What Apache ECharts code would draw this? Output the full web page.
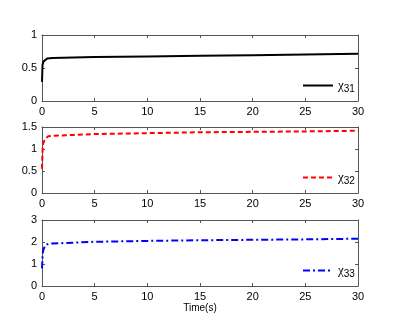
<!DOCTYPE html>
<html><head><meta charset="utf-8">
<script src="https://cdn.jsdelivr.net/npm/echarts@6/dist/echarts.min.js"></script>
<style>html,body{margin:0;padding:0;background:#fff}#c{width:396px;height:334px}</style>
</head><body><div id="c"></div>
<script>
const xTicks = [0,5,10,15,20,25,30];
const names = ['χ31','χ32','χ33'];
const subs = ['31','32','33'];
const chi31 = [[0,0.29],[0.05,0.55],[0.15,0.6],[0.3,0.63],[0.5,0.645],[1,0.65],[3,0.66],[5,0.665],[10,0.675],[15,0.685],[20,0.695],[25,0.705],[30,0.715]];
const chi32 = [[0,0.55],[0.05,0.95],[0.1,1.12],[0.3,1.23],[0.6,1.29],[1,1.3],[3,1.32],[5,1.34],[10,1.36],[15,1.38],[20,1.39],[25,1.40],[30,1.415]];
const chi33 = [[0,0.8],[0.05,1.3],[0.1,1.6],[0.3,1.85],[0.6,1.92],[1,1.93],[3,1.97],[5,2.01],[10,2.05],[15,2.08],[20,2.1],[25,2.12],[30,2.15]];
const yMax = [1,1.5,3];
const yInt = [0.5,0.5,1];
const colors = ['#000000','#ff0000','#0000ff'];
const lineTypes = ['solid',[5,3],[7,3,2,3]];
const datas = [chi31,chi32,chi33];

const tops = [35,127,220];
const H = 66;
const grids=[], xAxes=[], yAxes=[], series=[], legends=[];
const font = {fontFamily:'Liberation Sans, Arial', fontSize:11, color:'#000'};
const axLine={show:true,onZero:false,lineStyle:{color:'#555',width:1}};
const tick={inside:true,length:3,lineStyle:{color:'#555'}};
for(let i=0;i<3;i++){
  grids.push({left:42,right:38,top:tops[i],height:H});
  xAxes.push({type:'value',gridIndex:i,min:0,max:30,interval:5,axisLine:axLine,
    axisTick:tick,splitLine:{show:false},
    axisLabel:Object.assign({margin:5},font),
    name: i===2?'Time(s)':'', nameLocation:'middle', nameGap:16,
    nameTextStyle:{fontFamily:'Liberation Sans, Arial',fontSize:10,color:'#000'}});
  xAxes.push({type:'value',gridIndex:i,position:'top',min:0,max:30,interval:5,axisLine:axLine,
    axisTick:tick,splitLine:{show:false},axisLabel:{show:false}});
  yAxes.push({type:'value',gridIndex:i,min:0,max:yMax[i],interval:yInt[i],axisLine:axLine,
    axisTick:tick,splitLine:{show:false},
    axisLabel:Object.assign({margin:5},font)});
  yAxes.push({type:'value',gridIndex:i,position:'right',min:0,max:yMax[i],interval:yInt[i],axisLine:axLine,
    axisTick:tick,splitLine:{show:false},axisLabel:{show:false}});
  series.push({name:names[i],type:'line',xAxisIndex:2*i,yAxisIndex:2*i,data:datas[i],showSymbol:false,symbol:'none',
    lineStyle:{color:colors[i],width:2,type:lineTypes[i]},itemStyle:{color:colors[i]}});
  legends.push({data:[names[i]],left:302,top:tops[i]+44,itemWidth:30,itemHeight:14,padding:0,
    itemStyle:{opacity:0},
    lineStyle:{color:colors[i],width:2,type:lineTypes[i]},
    formatter:function(){return '{a|χ}{s|'+subs[i]+'}';},
    textStyle:{rich:{a:{fontFamily:'Liberation Serif, Times New Roman',fontSize:13,color:'#000'},s:{fontFamily:'Liberation Sans, Arial',fontSize:10,color:'#000',padding:[8,0,0,0]}}}});
}
const chart = echarts.init(document.getElementById('c'),null,{renderer:'canvas'});
chart.setOption({animation:false,backgroundColor:'#fff',grid:grids,xAxis:xAxes,yAxis:yAxes,series:series,legend:legends});
</script></body></html>
